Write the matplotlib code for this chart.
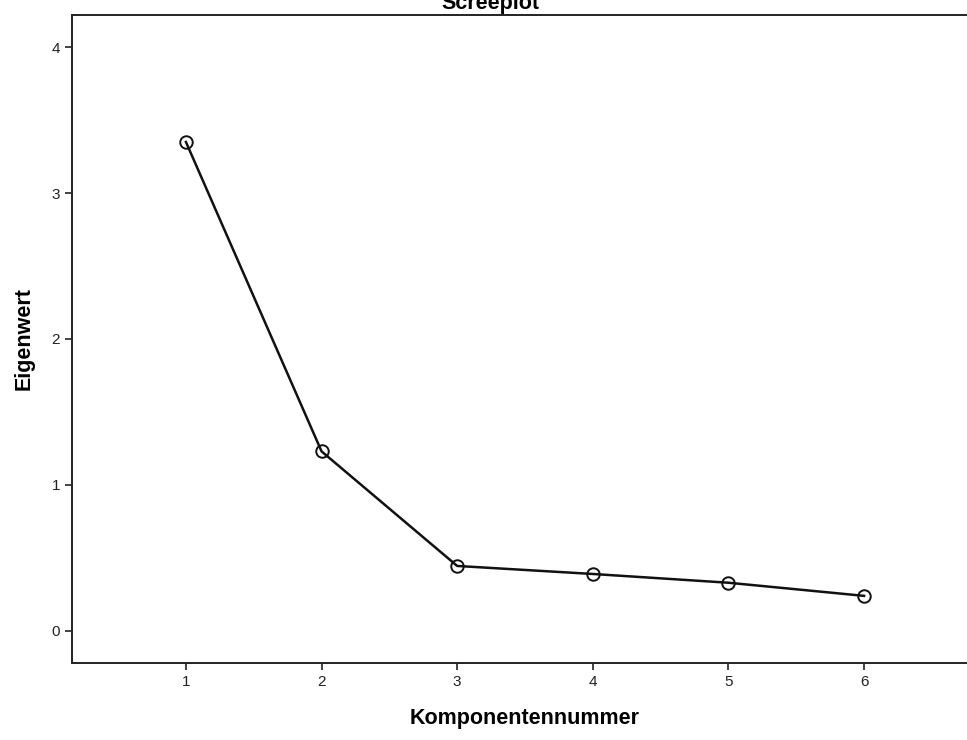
import matplotlib
matplotlib.use("Agg")
import matplotlib.pyplot as plt

components = [1, 2, 3, 4, 5, 6]
eigenvalues = [3.35, 1.23, 0.445, 0.39, 0.33, 0.24]
yticks = [0, 1, 2, 3, 4]

plt.rcParams['font.family'] = ['Liberation Sans', 'DejaVu Sans']

W, H = 967, 740
fig = plt.figure(figsize=(W / 100, H / 100), dpi=100)
fig.patch.set_facecolor('white')
ax = fig.add_axes([72 / W, 1 - 663 / H, (978 - 72) / W, (663 - 15) / H])

ax.plot(components, eigenvalues, color='#111111', lw=1.8, marker='o', ms=9,
        mfc='none', mec='#111111', mew=1.4)

ax.set_xlim(0.16, 6.84)
ax.set_ylim(-0.22, 4.22)
ax.set_xticks(components)
ax.set_yticks(yticks)
ax.tick_params(direction='out', length=5, width=1.2, labelsize=11, colors='#222222')
for s in ax.spines.values():
    s.set_linewidth(1.4)
    s.set_color('#222222')

ax.set_xlabel('Komponentennummer', fontsize=15.5, fontweight='bold', labelpad=14)
ax.set_ylabel('Eigenwert', fontsize=15.5, fontweight='bold', labelpad=12)
fig.text(490 / W, 1 - 3 / H, 'Screeplot', ha='center', va='center',
         fontsize=15.5, fontweight='bold')

fig.savefig('out.png', dpi=100)
